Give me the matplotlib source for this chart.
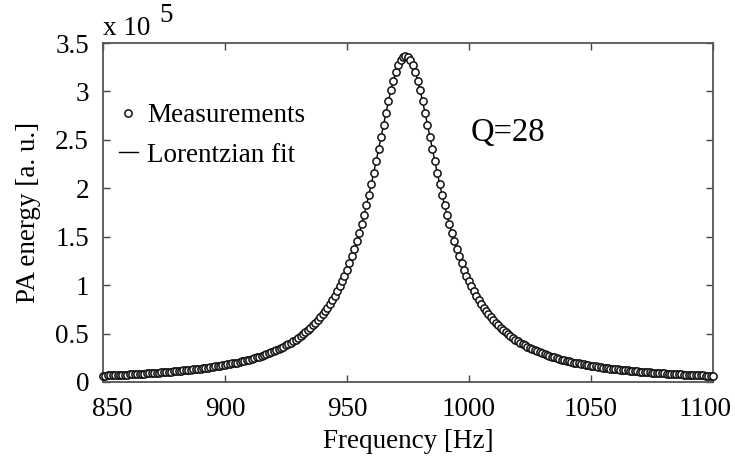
import matplotlib
matplotlib.use("Agg")
import matplotlib.pyplot as plt
import matplotlib.transforms as mtransforms
from matplotlib.ticker import FuncFormatter

plt.rcParams['font.family'] = ['Liberation Serif', 'DejaVu Serif']

freq_start = 850
freq_stop = 1100
left_flank = [
    0.065, 0.066, 0.067, 0.068, 0.069, 0.070, 0.072, 0.073, 0.074, 0.075,  # 850-859
    0.077, 0.078, 0.079, 0.081, 0.082, 0.084, 0.085, 0.087, 0.088, 0.090,  # 860-869
    0.092, 0.093, 0.095, 0.097, 0.099, 0.101, 0.103, 0.105, 0.107, 0.109,  # 870-879
    0.112, 0.114, 0.116, 0.119, 0.121, 0.124, 0.127, 0.130, 0.132, 0.135,  # 880-889
    0.139, 0.142, 0.145, 0.149, 0.152, 0.156, 0.160, 0.164, 0.168, 0.172,  # 890-899
    0.176, 0.181, 0.186, 0.191, 0.196, 0.201, 0.207, 0.213, 0.219, 0.225,  # 900-909
    0.232, 0.239, 0.246, 0.253, 0.261, 0.269, 0.278, 0.287, 0.296, 0.306,  # 910-919
    0.317, 0.328, 0.339, 0.351, 0.364, 0.377, 0.391, 0.406, 0.422, 0.438,  # 920-929
    0.455, 0.474, 0.493, 0.514, 0.536, 0.559, 0.584, 0.610, 0.638, 0.667,  # 930-939
    0.699, 0.733, 0.768, 0.807, 0.848, 0.891, 0.938, 0.988, 1.042, 1.099,  # 940-949
    1.160, 1.226, 1.296, 1.371, 1.451, 1.536, 1.627, 1.723, 1.825, 1.933,  # 950-959
    2.045, 2.162, 2.283, 2.407, 2.533, 2.658, 2.781, 2.900, 3.012, 3.113,  # 960-969
    3.201, 3.273, 3.326, 3.359, 3.370,                                     # 970-974
]
right_flank = [
    3.359, 3.326, 3.273, 3.201, 3.113, 3.012, 2.900, 2.781, 2.658, 2.533,  # 975-984
    2.407, 2.283, 2.162, 2.045, 1.933, 1.825, 1.723, 1.627, 1.536, 1.451,  # 985-994
    1.371, 1.296, 1.226, 1.160, 1.099, 1.042, 0.988, 0.938, 0.891, 0.848,  # 995-1004
    0.807, 0.768, 0.733, 0.699, 0.667, 0.638, 0.610, 0.584, 0.559, 0.536,  # 1005-1014
    0.514, 0.493, 0.474, 0.455, 0.438, 0.422, 0.406, 0.391, 0.377, 0.364,  # 1015-1024
    0.351, 0.339, 0.328, 0.317, 0.306, 0.296, 0.287, 0.278, 0.269, 0.261,  # 1025-1034
    0.253, 0.246, 0.239, 0.232, 0.225, 0.219, 0.213, 0.207, 0.201, 0.196,  # 1035-1044
    0.191, 0.186, 0.181, 0.176, 0.172, 0.168, 0.164, 0.160, 0.156, 0.152,  # 1045-1054
    0.149, 0.145, 0.142, 0.139, 0.135, 0.132, 0.130, 0.127, 0.124, 0.121,  # 1055-1064
    0.119, 0.116, 0.114, 0.112, 0.109, 0.107, 0.105, 0.103, 0.101, 0.099,  # 1065-1074
    0.097, 0.095, 0.093, 0.092, 0.090, 0.088, 0.087, 0.085, 0.084, 0.082,  # 1075-1084
    0.081, 0.079, 0.078, 0.077, 0.075, 0.074, 0.073, 0.072, 0.070, 0.069,  # 1085-1094
    0.068, 0.067, 0.066, 0.065, 0.064, 0.063,                              # 1095-1100
]
measured = left_flank + right_flank
frequency = list(range(freq_start, freq_stop + 1))

x_ticks = [850, 900, 950, 1000, 1050, 1100]
y_ticks = [0, 0.5, 1, 1.5, 2, 2.5, 3, 3.5]

FS = 19.5

fig = plt.figure(figsize=(7.35, 4.58), dpi=100)
ax = fig.add_axes([0.140, 0.166, 0.830, 0.740])

ax.plot(frequency, measured, color='black', lw=1.0, label='Lorentzian fit', zorder=2)
ax.plot(frequency, measured, linestyle='none', marker='o', markersize=5.2,
        markerfacecolor='white', markeredgecolor='#111111', markeredgewidth=1.1,
        label='Measurements', zorder=3, clip_on=False)

ax.set_xlim(850, 1100)
ax.set_ylim(0, 3.5)
ax.set_xticks(x_ticks)
ax.set_yticks(y_ticks)
ax.yaxis.set_major_formatter(FuncFormatter(lambda v, p: '%g' % v))
ax.tick_params(direction='in', length=5, width=1, top=True, right=True,
               labelsize=FS, color='#444444')
ax.tick_params(axis='x', pad=11)
ax.tick_params(axis='y', pad=10)
for s in ax.spines.values():
    s.set_color('#555555')
    s.set_linewidth(1.3)

# first and last x labels are nudged inward in the reference
xlbls = ax.get_xticklabels()
xlbls[0].set_transform(xlbls[0].get_transform() +
                       mtransforms.ScaledTranslation(9 / 100, 0, fig.dpi_scale_trans))
xlbls[-1].set_transform(xlbls[-1].get_transform() +
                        mtransforms.ScaledTranslation(-8 / 100, 0, fig.dpi_scale_trans))

ax.set_xlabel('Frequency [Hz]', fontsize=FS, labelpad=5)
ax.set_ylabel('PA energy [a. u.]', fontsize=FS, labelpad=10)

ax.text(0.0, 1.005, 'x 10', transform=ax.transAxes, fontsize=FS, ha='left', va='bottom')
ax.text(0.093, 1.045, '5', transform=ax.transAxes, fontsize=FS, ha='left', va='bottom')

ax.text(0.664, 0.736, 'Q=28', transform=ax.transAxes, fontsize=23.5, ha='center', va='center')

h, l = ax.get_legend_handles_labels()
ax.legend([h[1], h[0]], [l[1], l[0]], loc='upper left', bbox_to_anchor=(0.008, 0.855),
          frameon=False, fontsize=FS, numpoints=1, handlelength=0.7,
          handletextpad=0.35, labelspacing=0.55, borderaxespad=0)

fig.savefig('out.png', dpi=100)
